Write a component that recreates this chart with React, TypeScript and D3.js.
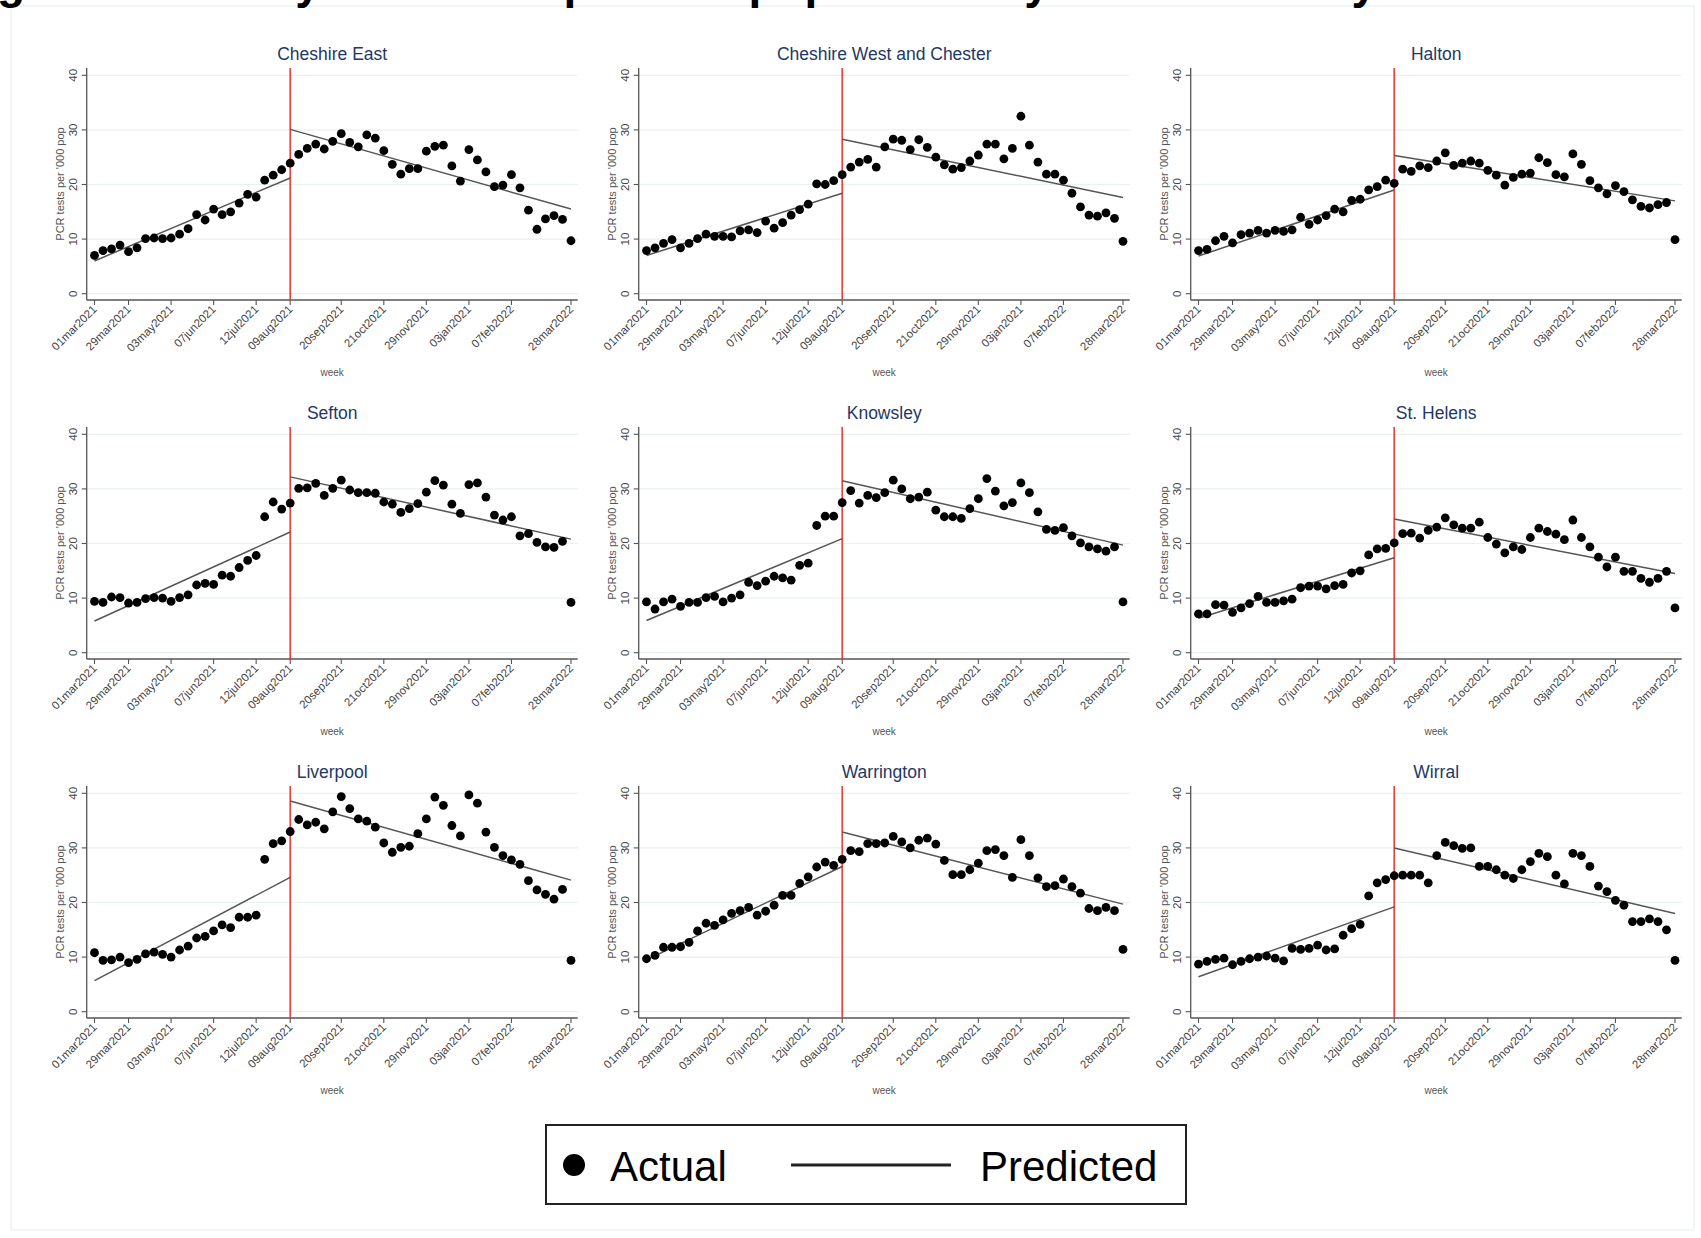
import React from "react";
import * as d3 from "d3";

// ---------- data ----------
const tickWeeks = [0, 4, 9, 14, 19, 23, 29, 34, 39, 44, 49, 56];
const tickLabels = [
  "01mar2021", "29mar2021", "03may2021", "07jun2021", "12jul2021", "09aug2021",
  "20sep2021", "21oct2021", "29nov2021", "03jan2021", "07feb2022", "28mar2022",
];
const yTicks = [0, 10, 20, 30, 40];
const interruptionWeek = 23;
const lastWeek = 56;

const panelNames = [
  "Cheshire East", "Cheshire West and Chester", "Halton",
  "Sefton", "Knowsley", "St. Helens",
  "Liverpool", "Warrington", "Wirral",
];

const cheshireEast = [7.0, 7.9, 8.2, 8.9, 7.7, 8.4, 10.1, 10.2, 10.1, 10.2, 10.9, 11.9, 14.5, 13.5, 15.5, 14.5, 15.0, 16.6, 18.2, 17.7, 20.8, 21.7, 22.7, 23.9, 25.5, 26.6, 27.4, 26.5, 27.9, 29.3, 27.7, 26.9, 29.1, 28.5, 26.2, 23.7, 21.9, 22.9, 22.9, 26.1, 27.0, 27.2, 23.4, 20.6, 26.4, 24.5, 22.3, 19.6, 19.9, 21.8, 19.4, 15.3, 11.8, 13.7, 14.3, 13.6, 9.7];
const cheshireWest = [7.9, 8.4, 9.2, 9.9, 8.4, 9.2, 10.1, 10.9, 10.5, 10.5, 10.4, 11.5, 11.7, 11.2, 13.3, 12.0, 13.0, 14.4, 15.4, 16.4, 20.1, 20.0, 20.7, 21.8, 23.2, 24.1, 24.6, 23.2, 26.9, 28.3, 28.1, 26.4, 28.2, 26.8, 25.0, 23.6, 22.8, 23.1, 24.3, 25.4, 27.4, 27.4, 24.7, 26.6, 32.5, 27.2, 24.1, 21.9, 21.9, 20.8, 18.4, 15.9, 14.4, 14.2, 14.8, 13.8, 9.6];
const halton = [7.9, 8.1, 9.7, 10.5, 9.3, 10.8, 11.1, 11.6, 11.1, 11.6, 11.4, 11.7, 14.0, 12.7, 13.5, 14.3, 15.5, 15.0, 17.1, 17.3, 19.0, 19.6, 20.8, 20.2, 22.8, 22.4, 23.4, 23.1, 24.3, 25.8, 23.5, 23.9, 24.3, 23.9, 22.6, 21.7, 19.9, 21.3, 21.9, 22.1, 24.9, 24.0, 21.8, 21.4, 25.6, 23.7, 20.7, 19.4, 18.3, 19.8, 18.7, 17.2, 16.0, 15.7, 16.3, 16.7, 9.9];
const sefton = [9.4, 9.2, 10.2, 10.1, 9.1, 9.2, 9.9, 10.1, 10.0, 9.4, 10.1, 10.6, 12.4, 12.7, 12.5, 14.2, 14.0, 15.6, 16.9, 17.8, 24.9, 27.6, 26.3, 27.4, 30.1, 30.2, 31.0, 28.8, 30.1, 31.6, 29.8, 29.3, 29.3, 29.2, 27.6, 27.2, 25.7, 26.4, 27.3, 29.4, 31.5, 30.7, 27.2, 25.5, 30.8, 31.1, 28.5, 25.2, 24.3, 24.9, 21.4, 21.8, 20.2, 19.4, 19.3, 20.4, 9.2];
const knowsley = [9.3, 8.0, 9.3, 9.8, 8.5, 9.2, 9.2, 10.1, 10.3, 9.3, 10.0, 10.6, 12.9, 12.3, 13.1, 14.0, 13.7, 13.3, 16.0, 16.4, 23.3, 25.0, 25.0, 27.5, 29.7, 27.4, 28.8, 28.4, 29.3, 31.6, 30.0, 28.2, 28.5, 29.4, 26.1, 24.9, 24.9, 24.6, 26.4, 28.2, 31.9, 29.6, 26.9, 27.5, 31.1, 29.3, 25.8, 22.6, 22.4, 22.9, 21.4, 20.1, 19.4, 19.0, 18.6, 19.4, 9.3];
const stHelens = [7.1, 7.1, 8.8, 8.7, 7.4, 8.2, 9.0, 10.3, 9.2, 9.2, 9.5, 9.8, 11.9, 12.2, 12.2, 11.7, 12.3, 12.5, 14.6, 15.0, 17.9, 19.0, 19.1, 20.1, 21.8, 21.9, 21.0, 22.4, 23.0, 24.7, 23.4, 22.8, 22.8, 23.9, 21.1, 19.9, 18.3, 19.4, 18.9, 21.1, 22.8, 22.2, 21.7, 20.7, 24.3, 21.1, 19.4, 17.5, 15.7, 17.5, 14.9, 14.9, 13.6, 12.9, 13.6, 14.9, 8.2];
const liverpool = [10.8, 9.4, 9.5, 10.0, 9.0, 9.6, 10.6, 10.9, 10.5, 10.0, 11.3, 12.0, 13.5, 13.8, 14.8, 15.9, 15.4, 17.3, 17.3, 17.7, 27.9, 30.8, 31.3, 33.0, 35.2, 34.2, 34.7, 33.5, 36.6, 39.4, 37.2, 35.3, 34.9, 33.8, 30.9, 29.2, 30.1, 30.3, 32.6, 35.3, 39.3, 37.8, 34.1, 32.2, 39.7, 38.2, 32.9, 30.1, 28.6, 27.8, 27.0, 24.0, 22.3, 21.5, 20.6, 22.4, 9.4];
const warrington = [9.7, 10.3, 11.8, 11.8, 11.9, 12.7, 14.8, 16.2, 15.8, 16.8, 18.0, 18.5, 19.1, 17.7, 18.4, 19.5, 21.3, 21.3, 23.5, 24.7, 26.5, 27.4, 26.8, 27.9, 29.5, 29.3, 30.8, 30.8, 30.9, 32.1, 31.1, 30.0, 31.4, 31.8, 30.7, 27.7, 25.1, 25.1, 26.0, 27.2, 29.5, 29.7, 28.6, 24.6, 31.5, 28.6, 24.5, 22.9, 23.1, 24.3, 22.9, 21.7, 18.9, 18.5, 19.1, 18.5, 11.4];
const wirral = [8.7, 9.2, 9.6, 9.8, 8.6, 9.2, 9.7, 10.0, 10.2, 9.8, 9.3, 11.6, 11.4, 11.6, 12.2, 11.3, 11.5, 14.0, 15.2, 16.0, 21.2, 23.6, 24.2, 24.9, 25.0, 25.0, 25.0, 23.6, 28.6, 31.0, 30.4, 29.9, 30.0, 26.6, 26.6, 26.0, 25.0, 24.4, 26.0, 27.5, 29.0, 28.4, 25.0, 23.4, 29.0, 28.6, 26.6, 23.0, 22.0, 20.4, 19.5, 16.5, 16.5, 17.0, 16.5, 15.0, 9.4];

const actualSeries = [cheshireEast, cheshireWest, halton, sefton, knowsley, stHelens, liverpool, warrington, wirral];

// predicted (fitted) segments: [pre start, pre end, post start, post end]
const predCheshireEast = [6.0, 21.2, 30.1, 15.5];
const predCheshireWest = [7.0, 18.4, 28.3, 17.6];
const predHalton = [6.9, 19.0, 25.3, 17.0];
const predSefton = [5.8, 22.1, 32.2, 20.8];
const predKnowsley = [5.9, 20.9, 31.5, 19.7];
const predStHelens = [6.3, 17.4, 24.5, 14.5];
const predLiverpool = [5.7, 24.6, 38.6, 24.1];
const predWarrington = [9.5, 26.6, 32.9, 19.7];
const predWirral = [6.4, 19.2, 30.0, 18.0];
const predictedSeries = [predCheshireEast, predCheshireWest, predHalton, predSefton, predKnowsley, predStHelens, predLiverpool, predWarrington, predWirral];

// ---------- layout ----------
const W = 1701;
const H = 1238;
const FONT = "'Liberation Sans', Arial, sans-serif";
const colStep = 552;
const rowStep = 359;
const axisX0 = 86.7;
const plotW = 491;

function Panel({ idx }: { idx: number }) {
  const c = idx % 3;
  const r = Math.floor(idx / 3);
  const left = axisX0 + c * colStep;
  const right = left + plotW;
  const top = 68 + r * rowStep;
  const bottom = 300 + r * rowStep;
  const x = d3.scaleLinear().domain([0, lastWeek]).range([left + 7.8, left + 484.3]);
  const y = d3.scaleLinear().domain([0, 40]).range([293.7 + r * rowStep, 75.3 + r * rowStep]);
  const data = actualSeries[idx];
  const pred = predictedSeries[idx];
  const line = d3.line<[number, number]>().x((d) => x(d[0])).y((d) => y(d[1]));
  const cx = (left + right) / 2;
  return (
    <g>
      {yTicks.map((t) => (
        <line key={"g" + t} x1={left} x2={right} y1={y(t)} y2={y(t)} stroke="#e9f0f2" strokeWidth={1.2} />
      ))}
      <line x1={left} x2={left} y1={top} y2={bottom} stroke="#555" strokeWidth={1.3} />
      <line x1={left} x2={right} y1={bottom} y2={bottom} stroke="#555" strokeWidth={1.3} />
      {yTicks.map((t) => (
        <g key={"yt" + t}>
          <line x1={left - 5} x2={left} y1={y(t)} y2={y(t)} stroke="#555" strokeWidth={1.1} />
          <text
            transform={`translate(${left - 10},${y(t)}) rotate(-90)`}
            textAnchor="middle"
            fontFamily={FONT}
            fontSize={11.5}
            fill="#444"
          >
            {t}
          </text>
        </g>
      ))}
      {tickWeeks.map((w, i) => (
        <g key={"xt" + w}>
          <line x1={x(w)} x2={x(w)} y1={bottom} y2={bottom + 5} stroke="#555" strokeWidth={1.1} />
          <text
            transform={`translate(${x(w) + 3},${bottom + 10}) rotate(-45)`}
            textAnchor="end"
            fontFamily={FONT}
            fontSize={11.5}
            fill="#444"
          >
            {tickLabels[i]}
          </text>
        </g>
      ))}
      <line x1={x(interruptionWeek)} x2={x(interruptionWeek)} y1={top} y2={bottom} stroke="#e8413a" strokeWidth={1.6} />
      <path d={line([[0, pred[0]], [interruptionWeek, pred[1]]]) || ""} stroke="#555" strokeWidth={1.5} fill="none" />
      <path d={line([[interruptionWeek, pred[2]], [lastWeek, pred[3]]]) || ""} stroke="#555" strokeWidth={1.5} fill="none" />
      {data.map((v, i) => (
        <circle key={"p" + i} cx={x(i)} cy={y(v)} r={4.4} fill="#000" />
      ))}
      <text x={cx} y={60 + r * rowStep} textAnchor="middle" fontFamily={FONT} fontSize={17.5} fill="#1f3864">
        {panelNames[idx]}
      </text>
      <text x={cx} y={376 + r * rowStep} textAnchor="middle" fontFamily={FONT} fontSize={10} fill="#555">
        week
      </text>
      <text
        transform={`translate(${left - 23},${(top + bottom) / 2}) rotate(-90)`}
        textAnchor="middle"
        fontFamily={FONT}
        fontSize={11}
        fill="#555"
      >
        PCR tests per '000 pop
      </text>
    </g>
  );
}

export default function App() {
  return (
    <svg
      width={W}
      height={H}
      style={{ position: "absolute", left: 0, top: 0, background: "#fff" }}
      xmlns="http://www.w3.org/2000/svg"
    >
      <rect x={0} y={0} width={W} height={H} fill="#fff" />
      <rect x={11} y={6} width={W - 18} height={H - 14} fill="none" stroke="#eef2f4" strokeWidth={1.5} />
      <text x={-44} y={-2} fontFamily={FONT} fontWeight="bold" fontSize={46} fill="#000">
        Figure 5: Weekly PCR tests per '000 population by local authority
      </text>
      {panelNames.map((_, i) => (
        <Panel key={i} idx={i} />
      ))}
      <rect x={546} y={1125} width={640} height={79} fill="#fff" stroke="#222" strokeWidth={2} />
      <circle cx={574} cy={1165} r={11} fill="#000" />
      <text x={610} y={1181} fontFamily={FONT} fontSize={42} fill="#000">
        Actual
      </text>
      <line x1={791} x2={951} y1={1165} y2={1165} stroke="#222" strokeWidth={3} />
      <text x={980} y={1181} fontFamily={FONT} fontSize={42} fill="#000">
        Predicted
      </text>
    </svg>
  );
}
